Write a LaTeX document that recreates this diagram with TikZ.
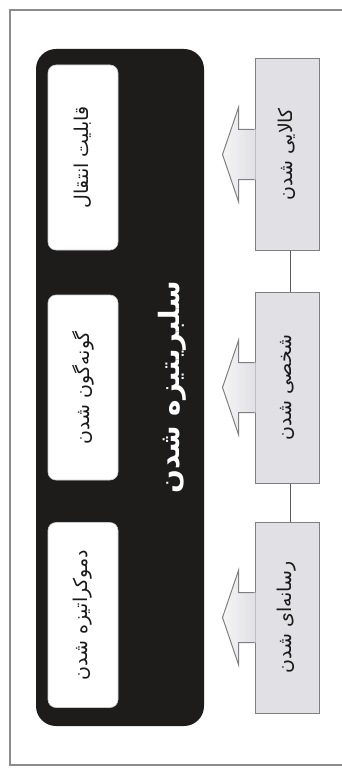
\documentclass[tikz,border=0pt]{standalone}
\usepackage{fontspec}
\usetikzlibrary{calc}
\newfontfamily\arabicfont[Script=Arabic]{DejaVu Sans}
\TeXXeTstate=1
\definecolor{boxgray}{HTML}{E0E0E5}
\definecolor{edgegray}{HTML}{7F7F7F}
\definecolor{framegray}{HTML}{8C8C8C}
\definecolor{nearblack}{HTML}{1E1B1B}
\begin{document}
\begin{tikzpicture}[x=1pt,y=-1pt,
  panel/.style={rectangle, rounded corners=20pt, fill=nearblack, minimum width=168pt, minimum height=677pt, inner sep=0pt},
  whitebox/.style={rectangle, rounded corners=8pt, fill=white, draw=gray!40, line width=0.6pt, rotate=90, minimum width=185pt, minimum height=70pt, inner sep=0pt, font=\arabicfont\fontsize{19}{22}\selectfont, text=black!90},
  graybox/.style={rectangle, fill=boxgray, draw=edgegray, line width=1pt, rotate=90, minimum width=191pt, minimum height=64pt, inner sep=0pt, font=\arabicfont\fontsize{19}{22}\selectfont, text=black!90},
  titletext/.style={rotate=90, text=white, font=\arabicfont\bfseries\fontsize{28}{32}\selectfont, inner sep=0pt},
  link/.style={draw=black!65, line width=0.8pt},
  framestyle/.style={draw=framegray, line width=1.2pt}
]
\useasboundingbox (0,0) rectangle (342,778);
\draw[framestyle] (342,10) -- (10,10) -- (10,765) -- (342,765);

\node[panel] (panel) at (120,387.5) {};
\node[whitebox] (w1) at (83,157.5) {\beginR قابلیت انتقال\endR};
\node[whitebox] (w2) at (83,387.5) {\beginR گونه‌گون شدن\endR};
\node[whitebox] (w3) at (83,615) {\beginR دموکراتیزه شدن\endR};
\node[titletext] (title) at (172,387.5) {\beginR سلبریتیزه شدن\endR};

\node[graybox] (g1) at (287,154.5) {\beginR کالایی شدن\endR};
\node[graybox] (g2) at (287,387.5) {\beginR شخصی شدن\endR};
\node[graybox] (g3) at (287,617.5) {\beginR رسانه‌ای شدن\endR};

\draw[link] ([xshift=3pt]g1.west) -- ([xshift=3pt]g2.east);
\draw[link] ([xshift=3pt]g2.west) -- ([xshift=3pt]g3.east);

\foreach \b in {g1,g2,g3}{
  \shade[left color=gray!8, right color=boxgray]
    ($(\b.north)+(1,-25)$) -- ($(\b.north)+(-16,-25)$) -- ($(\b.north)+(-16,-47)$) -- ($(\b.north)+(-32,0)$) -- ($(\b.north)+(-16,47)$) -- ($(\b.north)+(-16,25)$) -- ($(\b.north)+(1,25)$) -- cycle;
  \draw[draw=edgegray, line width=1pt, line join=miter]
    ($(\b.north)+(0,-25)$) -- ($(\b.north)+(-16,-25)$) -- ($(\b.north)+(-16,-47)$) -- ($(\b.north)+(-32,0)$) -- ($(\b.north)+(-16,47)$) -- ($(\b.north)+(-16,25)$) -- ($(\b.north)+(0,25)$);
}
\end{tikzpicture}
\end{document}
